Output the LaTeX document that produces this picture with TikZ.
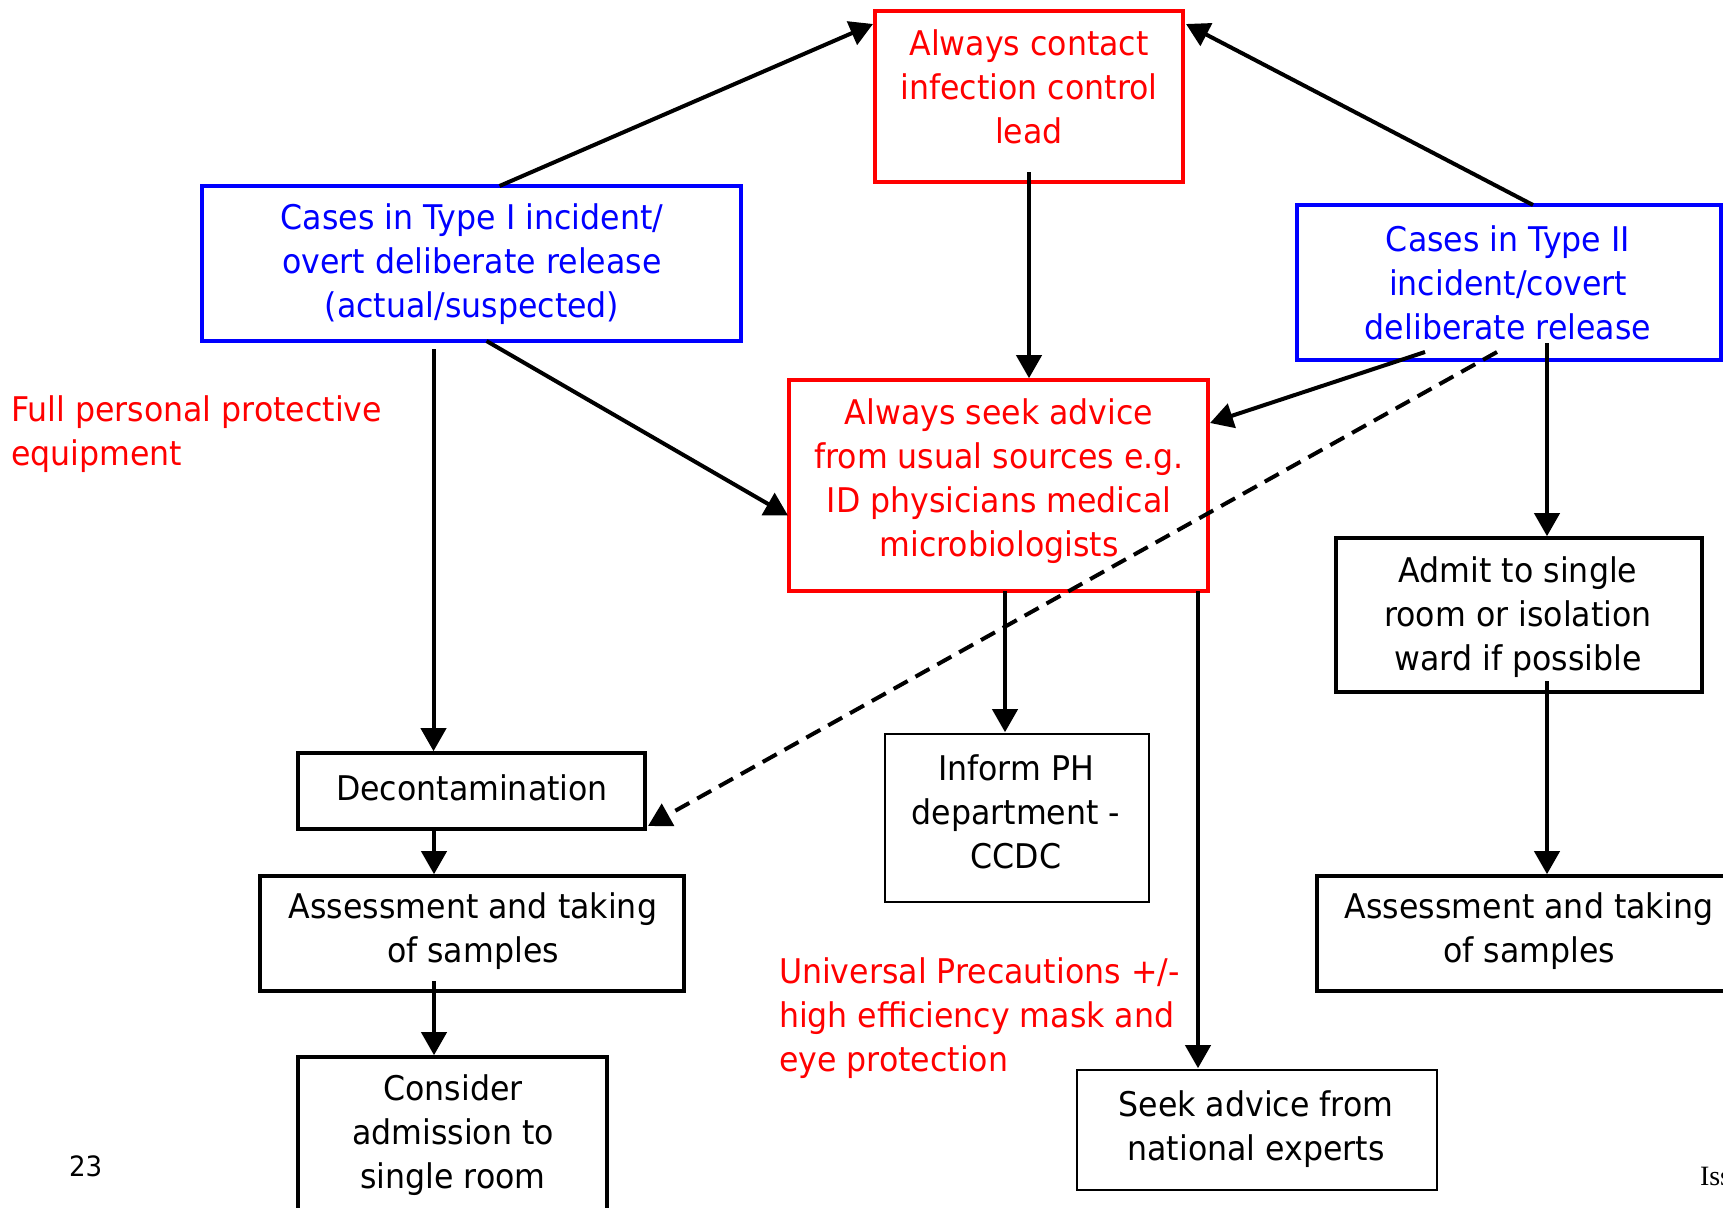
\documentclass[tikz,border=0pt]{standalone}
\usepackage{fontspec}
\setmainfont{DejaVu Sans}[FakeStretch=0.93]
\newfontfamily\footserif{Liberation Serif}
\usetikzlibrary{arrows.meta}

\begin{document}
\begin{tikzpicture}[x=1pt,y=-1pt,
  every node/.style={inner sep=0pt, outer sep=0pt},
  panel/.style={rectangle, anchor=north west},
  redpanel/.style={panel, draw=red, line width=3.8pt},
  bluepanel/.style={panel, draw=blue, line width=3.7pt},
  blackpanel/.style={panel, draw=black, line width=3.8pt},
  thinpanel/.style={panel, draw=black, line width=2.2pt},
  txt/.style={align=center, font=\fontsize{34}{44}\selectfont},
  note/.style={align=left, anchor=north west, text=red, font=\fontsize{34}{44}\selectfont},
  flow/.style={line width=4pt, -{Triangle[length=23pt,width=25pt]}},
  drop/.style={flow, shorten >=1.8pt},
  hint/.style={flow, dash pattern=on 16pt off 9pt},
]
\useasboundingbox (0,0) rectangle (1723,1207);

% boxes
\node[redpanel, minimum width=308pt, minimum height=171pt] (ictop) at (875,11) {};
\node[bluepanel, minimum width=539pt, minimum height=155pt] (typeI) at (202,186) {};
\node[bluepanel, minimum width=424pt, minimum height=155pt] (typeII) at (1297,205) {};
\node[redpanel, minimum width=419pt, minimum height=211pt] (seek) at (789,380) {};
\node[blackpanel, minimum width=366pt, minimum height=154pt] (admit) at (1336,538) {};
\node[blackpanel, minimum width=347pt, minimum height=76pt] (decon) at (298,753) {};
\node[blackpanel, minimum width=424pt, minimum height=115pt] (assessL) at (260,876) {};
\node[blackpanel, minimum width=309pt, minimum height=180pt] (consider) at (298,1057) {};
\node[thinpanel, minimum width=264pt, minimum height=168pt] (inform) at (885,734) {};
\node[blackpanel, minimum width=424pt, minimum height=115pt] (assessR) at (1317,876) {};
\node[thinpanel, minimum width=360pt, minimum height=120pt] (national) at (1077,1070) {};

% box texts
\node[txt, text=red] (ictopT) at (1029,87) {Always contact\\infection control\\lead};
\node[txt, text=blue] (typeIT) at (472,264) {Cases in Type I incident/\\overt deliberate release\\(actual/suspected)};
\node[txt, text=blue] (typeIIT) at (1508,283) {Cases in Type II\\incident/covert\\deliberate release};
\node[txt, text=red] (seekT) at (999,481) {Always seek advice\\from usual sources e.g.\\ID physicians medical\\microbiologists};
\node[txt] (admitT) at (1518,617) {Admit to single\\room or isolation\\ward if possible};
\node[txt] (deconT) at (472,788) {Decontamination};
\node[txt] (assessLT) at (473,931) {Assessment and taking\\of samples};
\node[txt] (considerT) at (453,1135) {Consider\\admission to\\single room};
\node[txt] (informT) at (1016,812) {Inform PH\\department -\\CCDC};
\node[txt] (assessRT) at (1529,931) {Assessment and taking\\of samples};
\node[txt] (nationalT) at (1256,1129) {Seek advice from\\national experts};

% free notes
\node[note] (ppe) at (11,396) {Full personal protective\\equipment};
\node[note] (univ) at (779,958) {Universal Precautions +/-\\high efficiency mask and\\eye protection};
\node[anchor=base west, font=\fontsize{28}{34}\selectfont] (pageno) at (69,1176) {23};
\node[anchor=base west, font=\footserif\fontsize{28}{34}\selectfont] (issue) at (1700,1185) {Iss};

% connectors
\draw[flow] ([xshift=28pt]typeI.north) -- ([xshift=-2pt,yshift=-13pt]ictop.north west);
\draw[flow] ([xshift=24pt]typeII.north) -- ([xshift=3pt,yshift=-13pt]ictop.north east);
\coordinate (cS) at ([yshift=10pt]ictop.south);
\draw[drop] (cS) -- (cS |- seek.north);
\draw[flow] ([xshift=15pt]typeI.south) -- ([xshift=-1pt,yshift=-30pt]seek.west);
\coordinate (eS) at ([xshift=-38pt,yshift=-8pt]typeI.south);
\draw[drop] (eS) -- (eS |- decon.north);
\draw[flow] ([xshift=-84pt,yshift=8pt]typeII.south) -- ([xshift=2pt,yshift=-43pt]seek.north east);
\draw[hint] ([xshift=-12pt,yshift=8pt]typeII.south) -- ([xshift=3pt,yshift=3pt]decon.south east);
\coordinate (hS) at ([xshift=38pt,yshift=17pt]typeII.south);
\draw[drop] (hS) -- (hS |- admit.north);
\coordinate (iS) at ([xshift=28pt,yshift=11pt]admit.south);
\draw[drop] (iS) -- (iS |- assessR.north);
\coordinate (jS) at ([xshift=6.5pt]seek.south);
\draw[drop] (jS) -- (jS |- inform.north);
\coordinate (kS) at ([xshift=199.5pt]seek.south);
\draw[drop] (kS) -- (kS |- national.north);
\coordinate (lS) at ([xshift=-37.5pt]decon.south);
\draw[drop] (lS) -- (lS |- assessL.north);
\coordinate (mS) at ([xshift=-38pt,yshift=10pt]assessL.south);
\draw[drop] (mS) -- (mS |- consider.north);
\end{tikzpicture}
\end{document}
